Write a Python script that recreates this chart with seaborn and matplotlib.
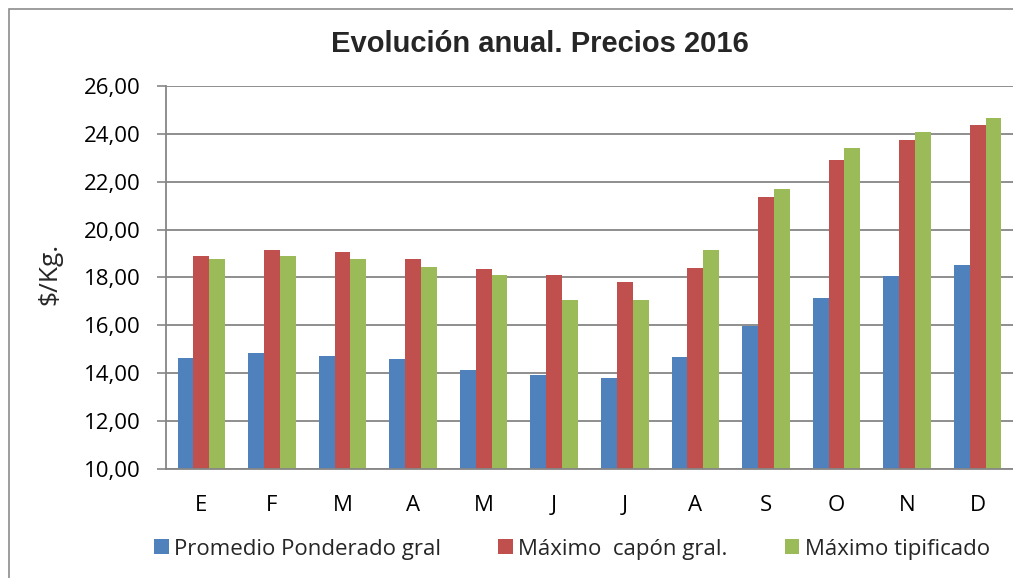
import pandas as pd
import seaborn as sns
import matplotlib.pyplot as plt
from matplotlib.patches import Patch, Rectangle
from matplotlib.ticker import FixedLocator, FuncFormatter

# --- Data ---
meses = ["Ene", "Feb", "Mar", "Abr", "May", "Jun", "Jul", "Ago", "Sep", "Oct", "Nov", "Dic"]
letras = ["E", "F", "M", "A", "M", "J", "J", "A", "S", "O", "N", "D"]
series = ["Promedio Ponderado gral", "Máximo  capón gral.", "Máximo tipificado"]
promedio = [14.65, 14.86, 14.72, 14.59, 14.15, 13.93, 13.79, 14.67, 15.96, 17.13, 18.05, 18.51]
maximo_capon = [18.90, 19.15, 19.05, 18.78, 18.37, 18.09, 17.81, 18.40, 21.37, 22.92, 23.73, 24.38]
maximo_tip = [18.76, 18.90, 18.78, 18.42, 18.09, 17.07, 17.05, 19.13, 21.70, 23.40, 24.06, 24.66]
colores = ["#4F81BD", "#C0504D", "#9BBB59"]

df = pd.DataFrame({
    "mes": meses * 3,
    "serie": [series[0]] * 12 + [series[1]] * 12 + [series[2]] * 12,
    "precio": promedio + maximo_capon + maximo_tip,
})

sns.set_style("white")
plt.rcParams["font.family"] = ["Open Sans", "DejaVu Sans"]

W, H = 1013, 578
fig = plt.figure(figsize=(W / 100, H / 100), dpi=100)
ax = fig.add_axes([166 / W, (H - 469) / H, (1013 - 166) / W, (469 - 86) / H])

sns.barplot(data=df, x="mes", y="precio", hue="serie", order=meses, hue_order=series,
            palette=colores, width=0.672, linewidth=0, saturation=1, legend=False, ax=ax)

gris = "#868686"
ax.set_xlim(-0.5, 11.5)
ax.set_ylim(10, 26)
ax.yaxis.set_major_locator(FixedLocator(list(range(10, 27, 2))))
ax.yaxis.set_major_formatter(FuncFormatter(lambda v, p: f"{v:.2f}".replace(".", ",")))
ax.set_xticks(range(12))
ax.set_xticklabels(letras)
ax.set_xticks([i - 0.5 for i in range(13)], minor=True)
ax.tick_params(axis="x", which="major", length=0, pad=19, labelsize=16, labelcolor="black")
ax.tick_params(axis="x", which="minor", length=5.8, width=1.2, color=gris, direction="out")
ax.tick_params(axis="y", length=6.5, width=1.2, color=gris, pad=12, labelsize=16,
               labelcolor="black", left=True)

ax.yaxis.grid(True, color=gris, linewidth=1.3)
ax.set_axisbelow(True)
for s in ["top", "right"]:
    ax.spines[s].set_visible(False)
for s in ["left", "bottom"]:
    ax.spines[s].set_color(gris)
    ax.spines[s].set_linewidth(1.3)

ax.set_xlabel("")
ax.set_ylabel("")
fig.text(50 / W, 1 - 274 / H, "$/Kg.", rotation=90, ha="center", va="center", fontsize=19)

fig.text(540 / W, 1 - 44 / H, "Evolución anual. Precios 2016", ha="center", va="center",
         fontsize=21, fontweight="bold", family=["Liberation Sans", "DejaVu Sans"])

handles = [Patch(facecolor=c, edgecolor="none") for c in colores]
fig.legend(handles, series, loc="center", bbox_to_anchor=(572 / W, 1 - 549 / H), ncol=3,
           frameon=False, fontsize=16, handlelength=0.67, handleheight=0.63,
           handletextpad=0.25, columnspacing=2.55, borderpad=0)

# outer chart border (clipped by the image on the right and bottom)
fig.add_artist(Rectangle((9 / W, -0.1), 2, (H - 9) / H + 0.1, transform=fig.transFigure,
                         fill=False, edgecolor="#8C8C8C", linewidth=1.2))

fig.savefig("out.png", dpi=100)
